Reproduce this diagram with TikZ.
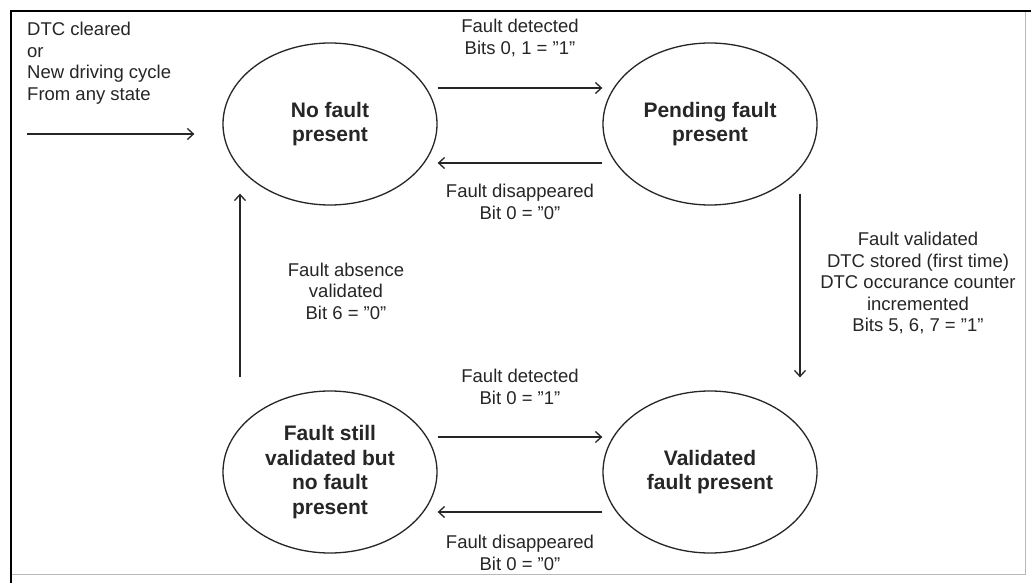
\documentclass[tikz,border=0pt]{standalone}
\usepackage{fontspec}
\setmainfont{Liberation Sans}
\usetikzlibrary{shapes.geometric,arrows.meta}
\definecolor{ink}{HTML}{262626}
\tikzset{
  state/.style={ellipse,draw=ink,line width=1.3pt,minimum width=214pt,minimum height=162pt,inner sep=0pt,
    align=center,text=ink,font=\bfseries\fontsize{21}{24.5}\selectfont},
  lbl/.style={align=center,text=ink,inner sep=0pt,font=\fontsize{18.5}{21.5}\selectfont},
  arr/.style={draw=ink,line width=1.3pt,-{Straight Barb[length=6pt,width=11pt,line width=1.3pt]}}
}
\begin{document}
\begin{tikzpicture}[x=1pt,y=-1pt]
\useasboundingbox (0,0) rectangle (1031,583);
\fill[white] (0,0) rectangle (1031,583);
% frame
\draw[gray!55,line width=0.8pt] (1025,11) -- (1025,574) -- (11,574);
\draw[black,line width=1.6pt] (11,583) -- (11,11) -- (1031,11);
% states
\node[state] (nofault) at (330,124) {No fault\\present};
\node[state] (pending) at (710,124) {Pending fault\\present};
\node[state] (stillval) at (330,472) {Fault still\\validated but\\no fault\\present};
\node[state] (validated) at (710,472) {Validated\\fault present};
% labels
\node[lbl,anchor=west,align=left] (entrylbl) at (27,63) {DTC cleared\\or\\New driving cycle\\From any state};
\node[lbl] (l1) at (520,38) {Fault detected\\Bits 0, 1 = "1"};
\node[lbl] (l2) at (520,202) {Fault disappeared\\Bit 0 = "0"};
\node[lbl] (l3) at (918,283) {Fault validated\\DTC stored (first time)\\DTC occurance counter\\incremented\\Bits 5, 6, 7 = "1"};
\node[lbl] (l4) at (346,291) {Fault absence\\validated\\Bit 6 = "0"};
\node[lbl] (l5) at (520,387) {Fault detected\\Bit 0 = "1"};
\node[lbl] (l6) at (520,553) {Fault disappeared\\Bit 0 = "0"};
% connectors
\coordinate (entry) at (27,134);
\draw[arr] (entry) -- ([xshift=-28pt,yshift=-10pt]nofault.west);
\draw[arr] ([yshift=36pt]nofault.east) -- ([yshift=36pt]pending.west);
\draw[arr] ([yshift=-39pt]pending.west) -- ([yshift=-39pt]nofault.east);
\draw[arr] ([xshift=90pt,yshift=12pt]pending.south) -- ([xshift=90pt,yshift=13pt]validated.north);
\draw[arr] ([yshift=35pt]stillval.east) -- ([yshift=35pt]validated.west);
\draw[arr] ([yshift=-40pt]validated.west) -- ([yshift=-40pt]stillval.east);
\draw[arr] ([xshift=-90pt,yshift=13pt]stillval.north) -- ([xshift=-90pt,yshift=12pt]nofault.south);
\end{tikzpicture}
\end{document}
